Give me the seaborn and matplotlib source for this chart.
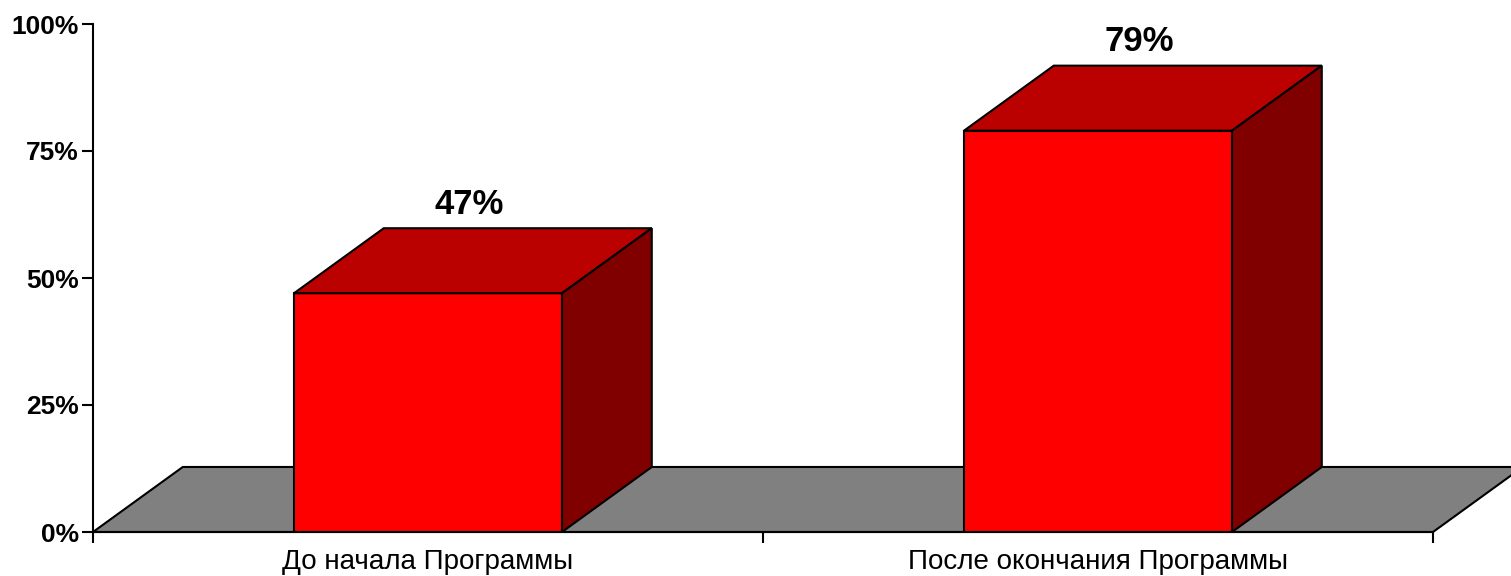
import matplotlib
matplotlib.use("Agg")
import matplotlib.pyplot as plt
import seaborn as sns
from matplotlib.patches import Polygon

categories = ["До начала Программы", "После окончания Программы"]
values = [47, 79]
value_labels = ["47%", "79%"]
y_ticks = [0, 25, 50, 75, 100]
y_tick_labels = ["0%", "25%", "50%", "75%", "100%"]

sns.set_style("white")
plt.rcParams['font.family'] = ['Liberation Sans', 'DejaVu Sans']
plt.rcParams['text.color'] = 'black'
plt.rcParams['xtick.color'] = 'black'
plt.rcParams['ytick.color'] = 'black'

fig = plt.figure(figsize=(15.11, 5.76), dpi=100)
ax = fig.add_axes([93 / 1511, 44 / 576, 1340 / 1511, 508 / 576])

bar_w = 0.4
dx = 0.134   # depth offset in category units
dy = 12.8    # depth offset in percent units

# floor
floor = Polygon([(-0.5, 0), (1.5, 0), (1.5 + dx, dy), (-0.5 + dx, dy)],
                closed=True, facecolor="#808080", edgecolor="black",
                linewidth=1.5, zorder=0.5, clip_on=False)
ax.add_patch(floor)

sns.barplot(x=categories, y=values, color="#FF0000", width=bar_w,
            edgecolor="black", linewidth=1.5, saturation=1, ax=ax, zorder=1)

for i, v in enumerate(values):
    x0, x1 = i - bar_w / 2, i + bar_w / 2
    top = Polygon([(x0, v), (x0 + dx, v + dy), (x1 + dx, v + dy), (x1, v)],
                  closed=True, facecolor="#BB0000", edgecolor="black",
                  linewidth=1.5, zorder=2, clip_on=False)
    side = Polygon([(x1, 0), (x1, v), (x1 + dx, v + dy), (x1 + dx, dy)],
                   closed=True, facecolor="#800000", edgecolor="black",
                   linewidth=1.5, zorder=2, clip_on=False)
    ax.add_patch(top)
    ax.add_patch(side)
    ax.text(i + dx / 2 - 0.005, v + dy + 1.5, value_labels[i], ha="center", va="bottom",
            fontsize=25, fontweight="bold", color="black")

ax.set_xlim(-0.5, 1.5)
ax.set_ylim(0, 100)
ax.set_yticks(y_ticks)
ax.set_yticklabels(y_tick_labels, fontsize=19, fontweight="bold")
ax.set_xticks([-0.5, 0.5, 1.5], minor=False)
ax.set_xticklabels(["", "", ""])
ax.set_xticks([0, 1], minor=True)
ax.set_xticklabels(categories, minor=True, fontsize=20)
ax.tick_params(axis="x", which="minor", bottom=False, length=0, pad=12)
ax.tick_params(axis="x", which="major", bottom=True, direction="out", length=8, width=1.5, color="black")
ax.tick_params(axis="y", left=True, direction="out", length=8, width=1.5, color="black", pad=2)
ax.set_xlabel("")
ax.set_ylabel("")

for s in ["top", "right"]:
    ax.spines[s].set_visible(False)
for s in ["left", "bottom"]:
    ax.spines[s].set_color("black")
    ax.spines[s].set_linewidth(1.5)
    ax.spines[s].set_zorder(3)

fig.savefig("out.png", dpi=100)
